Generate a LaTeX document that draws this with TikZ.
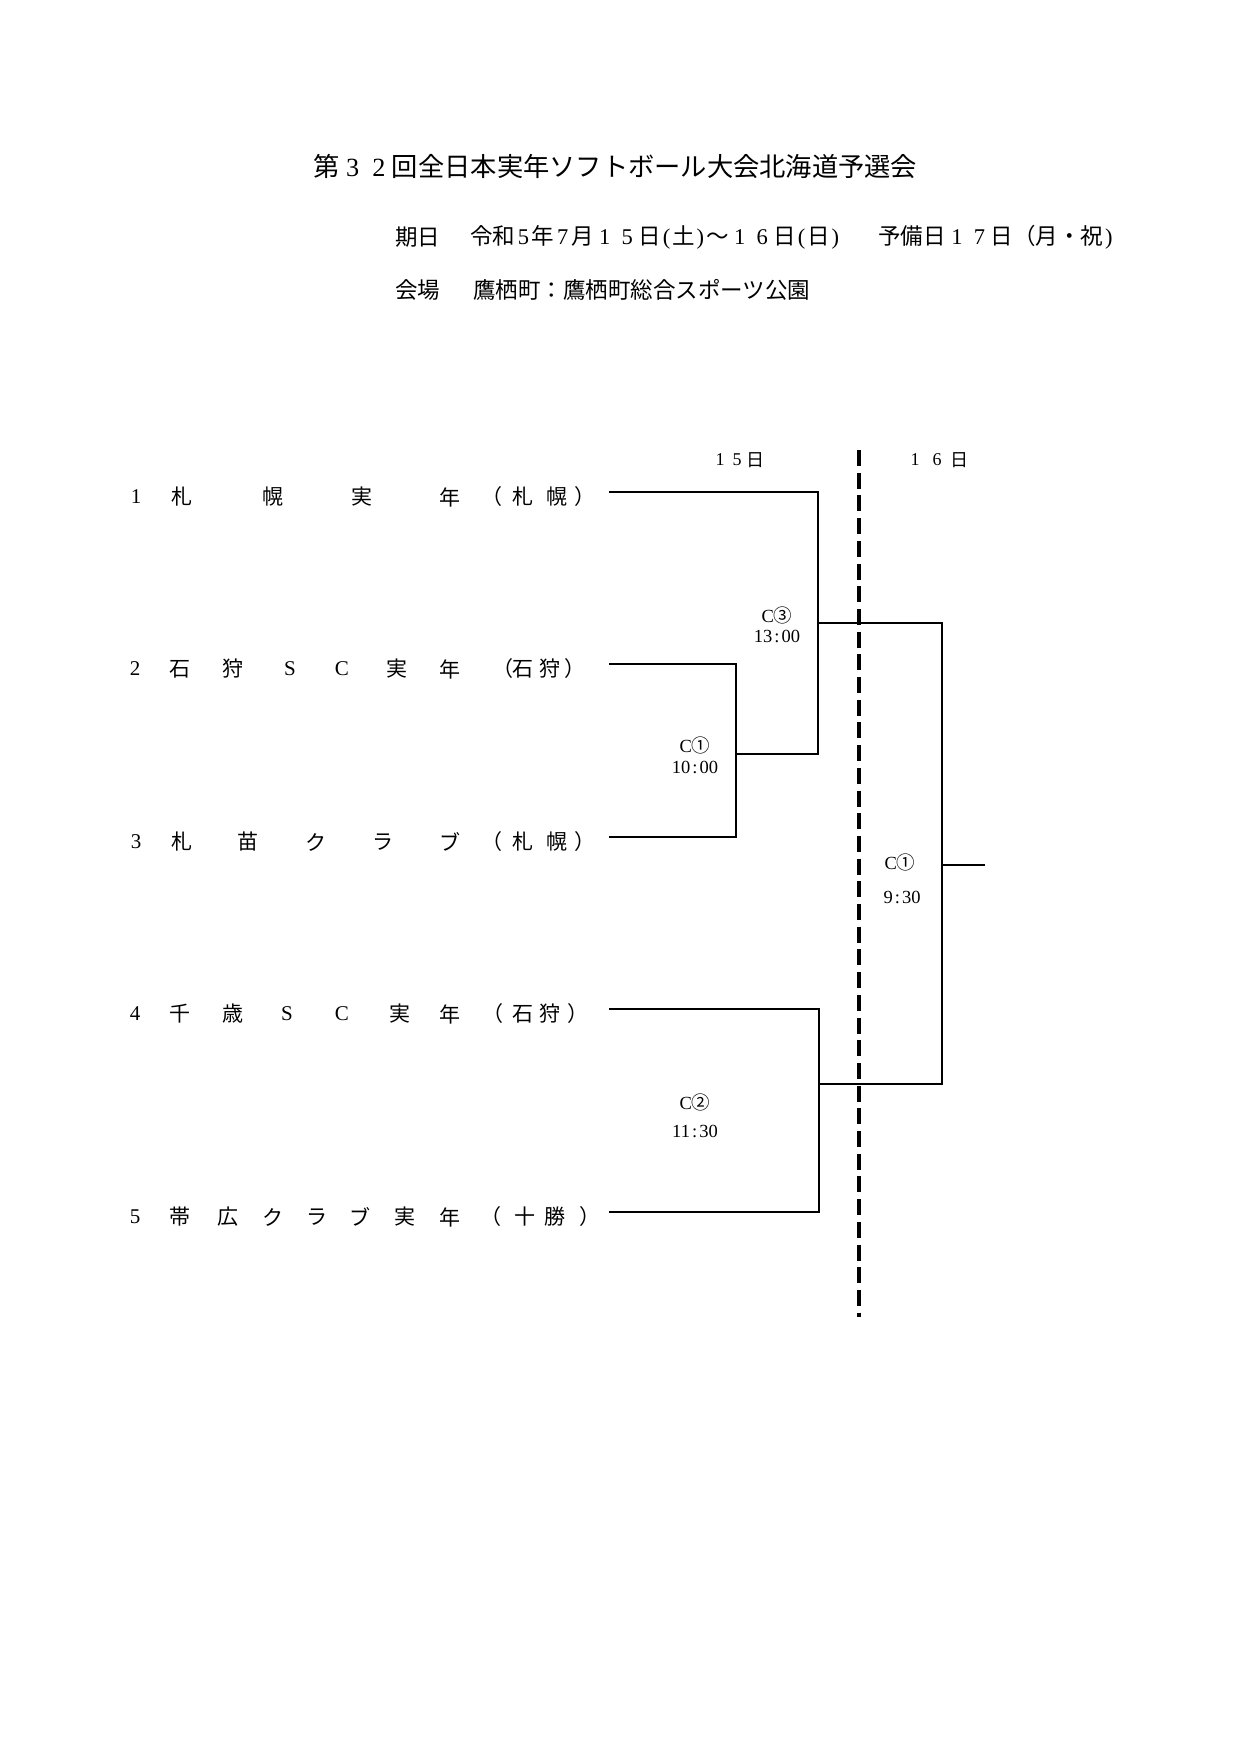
\documentclass[tikz,border=0pt]{standalone}
\usepackage{fontspec}
\setmainfont{Liberation Serif}
\newfontfamily\jp{Noto Sans CJK JP}
\newcommand\fd[1]{\makebox[1em]{\rmfamily #1}}
\newcommand\hd[1]{\makebox[0.5em]{\rmfamily #1}}
\newcommand\md[1]{\makebox[0.74em]{\rmfamily #1}}
\newcommand\teamrow[3]{\foreach \x/\c [count=\i] in {#3} {\node[tm] (#1-\i) at (\x,#2) {\c};}}
\tikzset{
  tm/.style={inner sep=0pt, font=\jp\fontsize{21}{21}\selectfont},
  ttl/.style={inner sep=0pt, anchor=west, font=\jp\fontsize{26.26}{27}\selectfont},
  sub/.style={inner sep=0pt, anchor=west, font=\jp\fontsize{22.5}{23}\selectfont},
  lab/.style={inner sep=0pt, font=\fontsize{18.5}{19}\selectfont},
  dayl/.style={inner sep=0pt, font=\jp\fontsize{18}{18}\selectfont},
  br/.style={line width=2pt, line cap=rect},
  divider/.style={line width=4pt, dash pattern=on 16pt off 6.7pt}
}
\begin{document}
\begin{tikzpicture}[x=1pt,y=-1pt]
\fill[white] (0,0) rectangle (1239,1754);
\useasboundingbox (0,0) rectangle (1239,1754);

% title and header
\node[ttl] (title) at (313,166) {第\fd{3}\fd{2}回全日本実年ソフトボール大会北海道予選会};
\node[sub] (kd) at (395,237) {期日};
\node[sub] (dt) at (470,237) {令和\md{5}年\md{7}月\fd{1}\fd{5}日\hd{(}土\hd{)}～\fd{1}\fd{6}日\hd{(}日\hd{)}};
\node[sub] (yb) at (878,237) {予備日\fd{1}\fd{7}日（月・祝\hd{)}};
\node[sub] (kj) at (395,290) {会場};
\node[sub] (pl) at (473,290) {鷹栖町：鷹栖町総合スポーツ公園};

% day headers
\node[dayl] (d15a) at (720,460) {\rmfamily 1};
\node[dayl] (d15b) at (737,460) {\rmfamily 5};
\node[dayl] (d15c) at (755,460) {日};
\node[dayl] (d16a) at (915,460) {\rmfamily 1};
\node[dayl] (d16b) at (937,460) {\rmfamily 6};
\node[dayl] (d16c) at (959,460) {日};

% teams
\teamrow{r1}{497}{136/{\rmfamily 1}, 181.7/札, 273/幌, 361.7/実, 450/年, 492/（, 523/札, 556.7/幌, 584.5/）}
\teamrow{r2}{669}{135/{\rmfamily 2}, 180/石, 233/狩, 290/{\rmfamily S}, 342/{\rmfamily C}, 397/実, 450/年, 502.5/（, 523/石, 550/狩, 574.5/）}
\teamrow{r3}{842}{136/{\rmfamily 3}, 181.7/札, 248/苗, 315.7/ク, 383/ラ, 450/ブ, 492/（, 523/札, 556.7/幌, 584.5/）}
\teamrow{r4}{1014}{135/{\rmfamily 4}, 180/千, 233/歳, 287/{\rmfamily S}, 342/{\rmfamily C}, 400/実, 450/年, 492.5/（, 523/石, 550/狩, 577.5/）}
\teamrow{r5}{1217}{135/{\rmfamily 5}, 180/帯, 228/広, 273/ク, 317/ラ, 360/ブ, 405/実, 450/年, 490.5/（, 525/十, 555/勝, 589.5/）}

% bracket points
\coordinate (s1) at (610,491.7);
\coordinate (s2) at (610,664.3);
\coordinate (s3) at (610,836.7);
\coordinate (s4) at (610,1009.3);
\coordinate (s5) at (610,1211.7);
\coordinate (j1) at (736,754);
\coordinate (j3) at (818.3,622.7);
\coordinate (j2) at (818.5,1084.3);
\coordinate (jf) at (942.3,865);
\coordinate (fo) at (984,865);
\coordinate (dtop) at (858.7,450);
\coordinate (dbot) at (858.7,1317);

\draw[br] (s2) -| (j1) |- (s3);
\draw[br] (j1) -| (j3) |- (s1);
\draw[br] (s4) -| (j2) |- (s5);
\draw[br] (j3) -| (jf) |- (j2);
\draw[br] (jf) -- (fo);

\draw[divider] (dtop) -- (dbot);

% match labels
\node[lab] (c3) at (777,615) {C{\jp ③}};
\node[lab] (t3) at (777,636) {13\hd{:}00};
\node[lab] (c1) at (695,745) {C{\jp ①}};
\node[lab] (t1) at (695,767) {10\hd{:}00};
\node[lab] (c2) at (695,1102) {C{\jp ②}};
\node[lab] (t2) at (695,1131) {11\hd{:}30};
\node[lab] (cf) at (900,862) {C{\jp ①}};
\node[lab] (tf) at (902,897) {9\hd{:}30};
\end{tikzpicture}
\end{document}
